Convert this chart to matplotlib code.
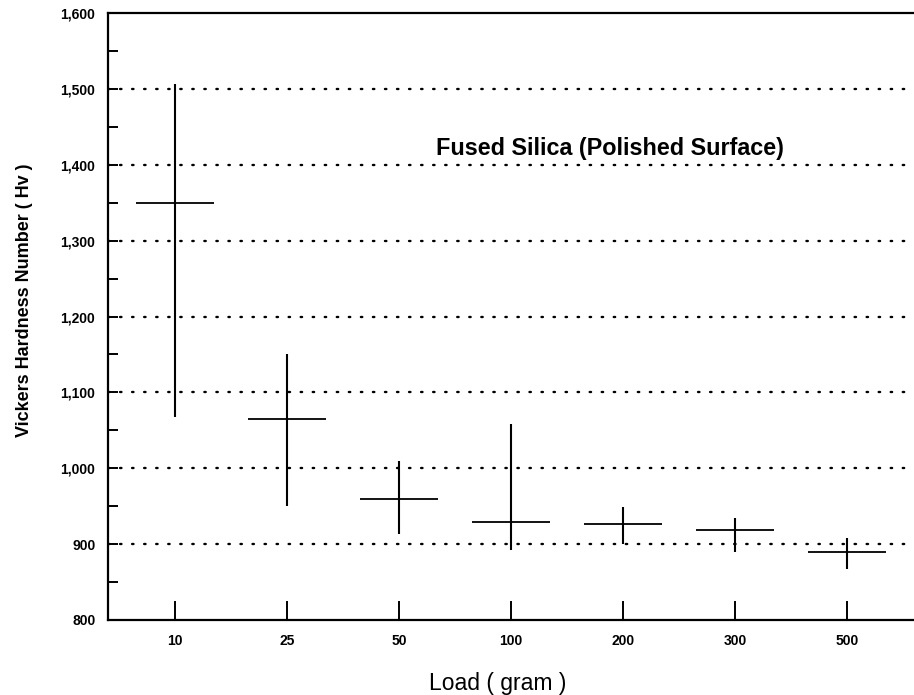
import numpy as np
import matplotlib
matplotlib.use("Agg")
import matplotlib.pyplot as plt
from matplotlib.ticker import MultipleLocator, FuncFormatter

plt.rcParams['font.family'] = ['Liberation Sans', 'DejaVu Sans']

# loads (categories) and hardness readings
loads = ['10', '25', '50', '100', '200', '300', '500']
hv_mean = [1350, 1065, 959, 929, 926, 918, 890]
hv_max = [1506, 1150, 1009, 1059, 949, 935, 908]
hv_min = [1067, 950, 913, 892, 900, 889, 867]

fig = plt.figure(figsize=(9.14, 6.95), dpi=100)
ax = fig.add_axes([0.118, 0.108, 0.882, 0.873])

x = np.arange(len(loads))

# grid lines (dotted) at the major values only
for yv in range(900, 1600, 100):
    ax.axhline(yv, color='black', lw=1.7, ls=(0, (0.6, 4.5)),
               dash_capstyle='round', zorder=1)

# vertical range and horizontal mean for each load
ax.vlines(x, hv_min, hv_max, color='black', lw=1.5, zorder=2)
ax.hlines(hv_mean, x - 0.35, x + 0.35, color='black', lw=1.3, zorder=2)

ax.set_xlim(-0.6, 6.6)
ax.set_ylim(800, 1600)
ax.set_xticks(x)
ax.set_xticklabels(loads)
ax.yaxis.set_major_locator(MultipleLocator(100))
ax.yaxis.set_minor_locator(MultipleLocator(50))
ax.yaxis.set_major_formatter(FuncFormatter(lambda v, p: f"{int(v):,}"))

ax.tick_params(axis='x', direction='in', length=14, width=1.4, pad=10,
               labelsize=10)
ax.tick_params(axis='y', which='both', direction='in', length=7, width=1.4,
               pad=9, labelsize=10)
for lab in ax.get_xticklabels() + ax.get_yticklabels():
    lab.set_fontweight('bold')

for s in ['left', 'bottom', 'top']:
    ax.spines[s].set_linewidth(1.6)
ax.spines['right'].set_visible(False)

ax.set_ylabel('Vickers Hardness Number ( Hv )', fontsize=13,
              fontweight='bold', labelpad=14)
ax.yaxis.set_label_coords(-0.093, 0.527)
ax.set_xlabel('Load ( gram )', fontsize=16.5, labelpad=10)
ax.xaxis.set_label_coords(0.484, -0.085)

ax.text(2.33, 1422, 'Fused Silica (Polished Surface)', fontsize=16.8,
        fontweight='bold', ha='left', va='center')

fig.savefig('out.png', dpi=100)
